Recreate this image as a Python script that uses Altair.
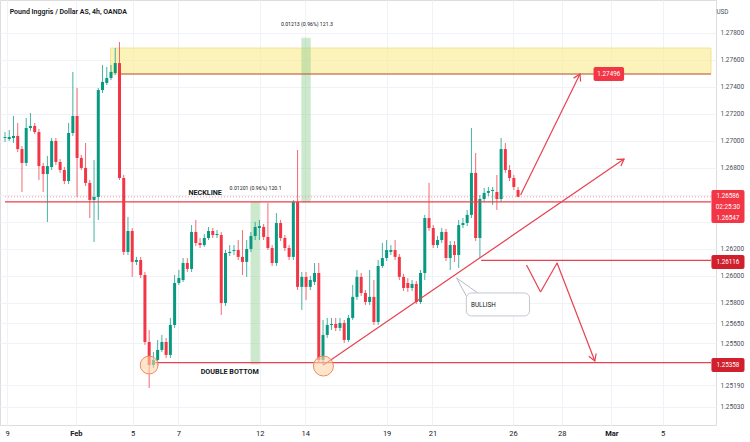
import altair as alt
import pandas as pd
import numpy as np

GREEN = "#089981"
RED = "#f23645"
DARKRED = "#d0202e"
FONT = "Roboto"

# ---- candle data (4h candles, index = candle number) ----
opens = [
1.27022, 1.27014, 1.27022, 1.27037, 1.26940, 1.26837, 1.27096, 1.27111, 1.27066, 1.26814,
1.26755, 1.26807, 1.27000, 1.26844, 1.26785, 1.26703, 1.27059, 1.27185, 1.26874, 1.26800,
1.26689, 1.26563, 1.26585, 1.27377, 1.27429, 1.27466, 1.27503, 1.27577, 1.26726, 1.26178,
1.26333, 1.26104, 1.26118, 1.26007, 1.25511, 1.25340, 1.25378, 1.25452, 1.25511, 1.25415,
1.25637, 1.25948, 1.25970, 1.26096, 1.26052, 1.26326, 1.26244, 1.26229, 1.26281, 1.26333,
1.26303, 1.26303, 1.25800, 1.26170, 1.26185, 1.26192, 1.26141, 1.26104, 1.26200, 1.26296,
1.26355, 1.26363, 1.26289, 1.26207, 1.26096, 1.26392, 1.26281, 1.26207, 1.26141, 1.26548,
1.25919, 1.25993, 1.25919, 1.25956, 1.26022, 1.25378, 1.25563, 1.25637, 1.25644, 1.25615,
1.25652, 1.25526, 1.25689, 1.25845, 1.25993, 1.25874, 1.25807, 1.25845, 1.25659, 1.26074,
1.26133, 1.26178, 1.26192, 1.26141, 1.25993, 1.25948, 1.25911, 1.25941, 1.25807, 1.26022,
1.26429, 1.26355, 1.26229, 1.26266, 1.26326, 1.26133, 1.26229, 1.26155, 1.26377, 1.26392,
1.26452, 1.26763, 1.26281, 1.26570, 1.26615, 1.26629, 1.26622, 1.26570, 1.26940, 1.26785,
1.26726, 1.26637]
highs = [
1.27066, 1.27081, 1.27185, 1.27133, 1.26963, 1.27170, 1.27207, 1.27133, 1.27089, 1.26837,
1.26889, 1.27022, 1.27022, 1.26866, 1.26807, 1.27133, 1.27511, 1.27392, 1.26896, 1.26985,
1.26711, 1.26859, 1.27392, 1.27563, 1.27548, 1.27563, 1.27688, 1.27733, 1.26748, 1.26437,
1.26355, 1.26141, 1.26141, 1.26030, 1.25600, 1.25437, 1.25526, 1.25563, 1.25541, 1.25689,
1.26007, 1.26044, 1.26133, 1.26133, 1.26377, 1.26415, 1.26281, 1.26311, 1.26363, 1.26355,
1.26340, 1.26326, 1.26192, 1.26229, 1.26229, 1.26266, 1.26340, 1.26266, 1.26326, 1.26400,
1.26415, 1.26385, 1.26540, 1.26229, 1.26466, 1.26415, 1.26303, 1.26229, 1.26563, 1.26933,
1.26030, 1.26030, 1.26000, 1.26096, 1.26096, 1.25674, 1.25689, 1.25689, 1.25689, 1.25689,
1.25674, 1.25711, 1.25933, 1.26044, 1.26022, 1.25896, 1.26044, 1.25970, 1.26118, 1.26244,
1.26266, 1.26229, 1.26266, 1.26163, 1.26015, 1.25985, 1.25970, 1.25963, 1.26044, 1.26452,
1.26689, 1.26377, 1.26296, 1.26355, 1.26348, 1.26259, 1.26259, 1.26415, 1.26429, 1.26489,
1.27096, 1.26911, 1.26600, 1.26652, 1.26659, 1.26659, 1.26748, 1.27022, 1.26985, 1.26822,
1.26748, 1.26659]
lows = [
1.26992, 1.27000, 1.26985, 1.26918, 1.26622, 1.26814, 1.27074, 1.27052, 1.26711, 1.26622,
1.26400, 1.26785, 1.26822, 1.26763, 1.26681, 1.26681, 1.27037, 1.26585, 1.26785, 1.26666,
1.26429, 1.26252, 1.26415, 1.27355, 1.27414, 1.27451, 1.27488, 1.26711, 1.26155, 1.26155,
1.25993, 1.26081, 1.25985, 1.25489, 1.25170, 1.25318, 1.25333, 1.25437, 1.25392, 1.25392,
1.25615, 1.25933, 1.25956, 1.26030, 1.26030, 1.26222, 1.26207, 1.26215, 1.26266, 1.26281,
1.26281, 1.25711, 1.25778, 1.26148, 1.26155, 1.26118, 1.26007, 1.25993, 1.26178, 1.26266,
1.26266, 1.26266, 1.26192, 1.26074, 1.26074, 1.26259, 1.26185, 1.26118, 1.26118, 1.25896,
1.25748, 1.25822, 1.25896, 1.25933, 1.25355, 1.25340, 1.25541, 1.25600, 1.25592, 1.25592,
1.25504, 1.25511, 1.25674, 1.25822, 1.25852, 1.25785, 1.25785, 1.25637, 1.25637, 1.26059,
1.26111, 1.26155, 1.26118, 1.25970, 1.25889, 1.25882, 1.25889, 1.25792, 1.25792, 1.25970,
1.26333, 1.26207, 1.26207, 1.26244, 1.26111, 1.26044, 1.26104, 1.26059, 1.26355, 1.26370,
1.26429, 1.26259, 1.26133, 1.26548, 1.26592, 1.26526, 1.26489, 1.26548, 1.26763, 1.26703,
1.26637, 1.26585]
closes = [
1.27029, 1.27029, 1.27037, 1.26940, 1.26837, 1.27096, 1.27111, 1.27066, 1.26814, 1.26755,
1.26814, 1.27000, 1.26844, 1.26785, 1.26703, 1.27059, 1.27185, 1.26874, 1.26800, 1.26689,
1.26563, 1.26585, 1.27377, 1.27437, 1.27466, 1.27511, 1.27577, 1.26726, 1.26178, 1.26333,
1.26104, 1.26118, 1.26007, 1.25511, 1.25340, 1.25378, 1.25452, 1.25511, 1.25415, 1.25637,
1.25948, 1.25985, 1.26096, 1.26052, 1.26326, 1.26244, 1.26229, 1.26281, 1.26333, 1.26303,
1.26311, 1.25800, 1.26170, 1.26178, 1.26192, 1.26141, 1.26104, 1.26200, 1.26296, 1.26363,
1.26370, 1.26289, 1.26207, 1.26096, 1.26392, 1.26281, 1.26207, 1.26141, 1.26548, 1.25919,
1.25993, 1.25919, 1.25970, 1.26022, 1.25378, 1.25563, 1.25637, 1.25644, 1.25615, 1.25652,
1.25526, 1.25689, 1.25845, 1.25993, 1.25874, 1.25807, 1.25845, 1.25659, 1.26074, 1.26133,
1.26192, 1.26192, 1.26141, 1.25993, 1.25911, 1.25911, 1.25941, 1.25807, 1.26022, 1.26429,
1.26355, 1.26229, 1.26266, 1.26326, 1.26133, 1.26229, 1.26155, 1.26377, 1.26392, 1.26452,
1.26763, 1.26281, 1.26570, 1.26615, 1.26629, 1.26637, 1.26570, 1.26940, 1.26785, 1.26726,
1.26659, 1.26586]

# ---- axis ticks ----
date_ticks = [0.5, 16.7, 30.1, 40.9, 60.1, 70.8, 90.0, 100.8, 119.8, 131.3, 143.0, 155.1]
date_labels = ["9", "Feb", "5", "7", "12", "14", "19", "21", "26", "28", "Mar", "5"]
price_ticks = [1.2503, 1.2519, 1.2550, 1.2565, 1.2580, 1.2600, 1.2620, 1.2640, 1.2660,
               1.2680, 1.2700, 1.2720, 1.2740, 1.2760, 1.2780]
hidden_price_ticks = [1.2640, 1.2660]   # covered by the price-label box

X_DOMAIN = [0, 166.5]
Y_DOMAIN = [1.24896, 1.28044]

n = len(opens)
candles = pd.DataFrame({
    "i": list(range(n)), "open": opens, "high": highs, "low": lows, "close": closes,
})
candles["dir"] = np.where(candles["close"] >= candles["open"], "up", "down")

xs = alt.Scale(domain=X_DOMAIN, nice=False, zero=False)
ys = alt.Scale(domain=Y_DOMAIN, nice=False, zero=False)
col = alt.Color("dir:N", scale=alt.Scale(domain=["up", "down"], range=[GREEN, RED]), legend=None)

label_expr = "[" + ",".join("'%s'" % s for s in date_labels) + "][indexof([" + \
    ",".join(str(v) for v in date_ticks) + "], datum.value)]"
y_label_expr = "indexof([" + ",".join(str(v) for v in hidden_price_ticks) + \
    "], datum.value) >= 0 ? '' : format(datum.value, '.5f')"

x_axis = alt.Axis(values=date_ticks, labelExpr=label_expr, grid=True, gridColor="#f0f2f7",
                  ticks=False, domain=False, labelFontSize=7.5, labelColor="#131722",
                  labelPadding=4, labelFlush=False, labelOverlap=False, title=None,
                  labelFont=FONT,
                  labelFontWeight={"condition": {"test": "datum.value == 16.7 || datum.value == 143", "value": "bold"}, "value": "normal"})
y_axis = alt.Axis(orient="right", values=price_ticks, labelExpr=y_label_expr, grid=True, gridColor="#f0f2f7",
                  ticks=False, domain=False, labelFontSize=6.5, labelColor="#4a4e5a",
                  labelPadding=4, labelFlush=False, labelOverlap=False, title=None, labelFont=FONT)


def X(f):
    return alt.X(f, scale=xs, axis=x_axis, title=None)


def Y(f):
    return alt.Y(f, scale=ys, axis=y_axis, title=None)


# ---- background drawings ----
rects_yellow = pd.DataFrame({"x": [24.9], "x2": [166.5], "y": [1.27496], "y2": [1.27688]})
green_bands = pd.DataFrame({"x": [70.0, 58.0], "x2": [72.0, 60.0],
                            "y": [1.26548, 1.25347], "y2": [1.27761, 1.26548]})

yellow = alt.Chart(rects_yellow).mark_rect(fill="#fbef9e", opacity=0.7, stroke="#f1d76b", strokeWidth=1).encode(
    x=X("x:Q"), x2="x2:Q", y=Y("y:Q"), y2="y2:Q")
greens = alt.Chart(green_bands).mark_rect(fill="#8fcf93", opacity=0.45, stroke="#8fcf93", strokeWidth=0.8).encode(
    x=X("x:Q"), x2="x2:Q", y=Y("y:Q"), y2="y2:Q")

price_line = pd.DataFrame({"x": [0], "x2": [166.5], "y": [1.26586], "y2": [1.26586]})
pline = alt.Chart(price_line).mark_rule(color="#f59aa2", strokeDash=[1, 2], strokeWidth=1).encode(
    x=X("x:Q"), x2="x2:Q", y=Y("y:Q"), y2="y2:Q")

target_line = pd.DataFrame({"x": [27.0], "x2": [166.5], "y": [1.27496], "y2": [1.27496]})
tline = alt.Chart(target_line).mark_rule(color="#b8574a", strokeWidth=1.1).encode(
    x=X("x:Q"), x2="x2:Q", y=Y("y:Q"), y2="y2:Q")

# ---- candles ----
wicks = alt.Chart(candles).mark_rule(strokeWidth=1, opacity=0.75).encode(
    x=X("i:Q"), y=Y("low:Q"), y2="high:Q", color=col)
bodies = alt.Chart(candles).mark_bar(size=3).encode(
    x=X("i:Q"), y=Y("open:Q"), y2="close:Q", color=col)

# ---- red drawings ----
seg = pd.DataFrame({
    "x":  [0.0, 35.3, 112.3, 75.1, 121.6, 123.0, 126.3, 130.2],
    "x2": [166.5, 166.5, 166.5, 146.0, 135.6, 126.3, 130.2, 139.1],
    "y":  [1.26548, 1.25358, 1.26116, 1.25340, 1.26600, 1.26081, 1.25881, 1.26096],
    "y2": [1.26548, 1.25358, 1.26116, 1.26866, 1.27496, 1.25881, 1.26096, 1.25370],
})
reds = alt.Chart(seg).mark_rule(color="#e8414f", strokeWidth=1.2).encode(
    x=X("x:Q"), x2="x2:Q", y=Y("y:Q"), y2="y2:Q")

heads = pd.DataFrame({"x": [146.0, 135.6, 139.1], "y": [1.26866, 1.27496, 1.25370],
                      "angle": [326, 296, 69]})
arrowheads = alt.Chart(heads).mark_point(shape="M-1,-0.6L0,0L-1,0.6", filled=False, size=170,
                                         strokeWidth=1.2, color="#e8414f", opacity=1).encode(
    x=X("x:Q"), y=Y("y:Q"), angle=alt.Angle("angle:Q", scale=None))

circ = pd.DataFrame({"x": [34.0, 75.1], "y": [1.25340, 1.25333], "s": [320, 400]})
circles = alt.Chart(circ).mark_circle(fill="#fdd3a8", fillOpacity=0.6, stroke="#f08a62",
                                      strokeWidth=1, opacity=1).encode(
    x=X("x:Q"), y=Y("y:Q"), size=alt.Size("s:Q", scale=None))

# ---- callout ----
tail = pd.DataFrame({"x": [106.5, 106.5], "x2": [108.9, 111.5],
                     "y": [1.25985, 1.25985], "y2": [1.25845, 1.25874]})
tails = alt.Chart(tail).mark_rule(color="#b8bcc6", strokeWidth=1).encode(
    x=X("x:Q"), x2="x2:Q", y=Y("y:Q"), y2="y2:Q")
box = pd.DataFrame({"x": [108.8], "x2": [123.7], "y": [1.25704], "y2": [1.25874]})
boxes = alt.Chart(box).mark_rect(fill="white", stroke="#c3c7d1", strokeWidth=1, cornerRadius=5).encode(
    x=X("x:Q"), x2="x2:Q", y=Y("y:Q"), y2="y2:Q")

# ---- price label boxes ----
lab_boxes = pd.DataFrame({
    "x":  [166.6, 166.6, 166.6, 138.8],
    "x2": [174.4, 174.4, 174.4, 146.0],
    "y":  [1.26392, 1.26052, 1.25289, 1.27444],
    "y2": [1.26637, 1.26155, 1.25392, 1.27548],
    "c":  [RED, DARKRED, DARKRED, RED],
})
labboxes = alt.Chart(lab_boxes).mark_rect(cornerRadius=2).encode(
    x=X("x:Q"), x2="x2:Q", y=Y("y:Q"), y2="y2:Q",
    color=alt.Color("c:N", scale=None))

lab_text = pd.DataFrame({
    "x": [170.5, 170.5, 170.5, 170.5, 170.5, 142.4],
    "y": [1.26592, 1.26511, 1.26429, 1.26104, 1.25340, 1.27496],
    "t": ["1.26586", "02:25:30", "1.26547", "1.26116", "1.25358", "1.27496"],
})
labtexts = alt.Chart(lab_text).mark_text(color="white", fontSize=6.3, font=FONT, baseline="middle").encode(
    x=X("x:Q"), y=Y("y:Q"), text="t:N")


# ---- texts ----
def txt(df, **kw):
    return alt.Chart(df).mark_text(baseline="middle", font=FONT, **kw).encode(
        x=X("x:Q"), y=Y("y:Q"), text="t:N")


title = txt(pd.DataFrame({"x": [1.1], "y": [1.27955], "t": ["Pound Inggris / Dollar AS, 4h, OANDA"]}),
            align="left", fontSize=7, fontWeight=600, color="#131722")
usd = txt(pd.DataFrame({"x": [169.2], "y": [1.27955], "t": ["USD"]}),
          align="center", fontSize=6.3, color="#4a4e5a")
measures = txt(pd.DataFrame({"x": [71.2, 59.1], "y": [1.27866, 1.26652],
                             "t": ["0.01213 (0.96%) 121.3", "0.01201 (0.96%) 120.1"]}),
               align="center", fontSize=5.2, color="#131722")
bold_labels = txt(pd.DataFrame({"x": [47.2, 53.0], "y": [1.26615, 1.25289],
                                "t": ["NECKLINE", "DOUBLE BOTTOM"]}),
                  align="center", fontSize=7.2, fontWeight="bold", color="#131722")
bullish = txt(pd.DataFrame({"x": [109.9], "y": [1.25785], "t": ["BULLISH"]}),
              align="left", fontSize=6.3, color="#131722")

chart = alt.layer(
    yellow, greens, pline, tline, wicks, bodies, reds, arrowheads, circles,
    tails, boxes, labboxes, labtexts, title, usd, measures, bold_labels, bullish,
).properties(
    width=716, height=425,
    autosize=alt.AutoSizeParams(type="none"),
    padding={"left": 0, "top": 0, "right": 34, "bottom": 17},
).configure_view(stroke=None).configure(background="white")

chart.save("out.html", embed_options={"renderer": "svg", "actions": False})
